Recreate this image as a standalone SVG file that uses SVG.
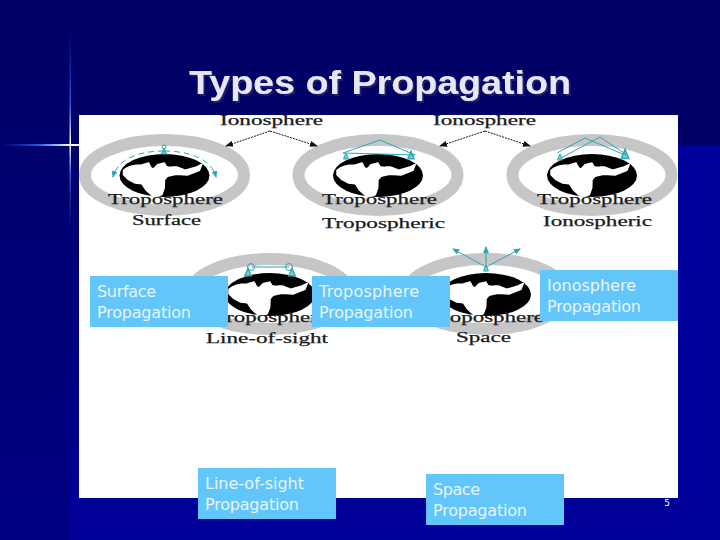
<svg xmlns="http://www.w3.org/2000/svg" width="720" height="540" viewBox="0 0 720 540">
<style>
.cap{font-family:"Liberation Serif","Times New Roman",serif;fill:#1a1a1a;stroke:#1a1a1a;stroke-width:.25;font-size:15px}
.lab{font-family:"DejaVu Sans",sans-serif;fill:#e6f4ff;font-size:16px}
.box{fill:#63c6fb}
.ring{fill:none;stroke:#c6c6c6;stroke-width:12}
.tl{fill:none;stroke:#2aa6b8;stroke-width:1}
.tt{fill:#2aa6b8;fill-opacity:.6;stroke:#2aa6b8;stroke-width:1}
.arr{fill:none;stroke:#111;stroke-width:1;stroke-dasharray:2 1;marker-end:url(#ah)}
</style>
<defs>
<filter id="sh" x="-5%" y="-20%" width="110%" height="140%"><feDropShadow dx="2" dy="2" stdDeviation="0.5" flood-color="#1c1c70"/></filter>
<linearGradient id="bg" x1="0" y1="0" x2="0" y2="1"><stop offset="0" stop-color="#00006a"/><stop offset="1" stop-color="#00009c"/></linearGradient>
<linearGradient id="lf" x1="0" y1="0" x2="0" y2="1"><stop offset="0" stop-color="#000066"/><stop offset="1" stop-color="#000084"/></linearGradient>
<linearGradient id="hz" x1="0" y1="0" x2="1" y2="0"><stop offset="0" stop-color="#1040c0" stop-opacity="0"/><stop offset=".5" stop-color="#2a62e0"/><stop offset=".88" stop-color="#ffffff"/><stop offset="1" stop-color="#ffffff"/></linearGradient>
<linearGradient id="vt" x1="0" y1="0" x2="0" y2="1"><stop offset="0" stop-color="#1040c0" stop-opacity="0"/><stop offset=".38" stop-color="#2a5cd8"/><stop offset=".57" stop-color="#ffffff"/><stop offset=".72" stop-color="#2a5cd8"/><stop offset="1" stop-color="#1040c0" stop-opacity="0"/></linearGradient>
<marker id="ah" markerWidth="8" markerHeight="6" refX="7" refY="3" orient="auto" markerUnits="userSpaceOnUse"><path d="M0,0L8,3L0,6Z" fill="#111"/></marker>
<marker id="tah" markerWidth="7" markerHeight="6" refX="6" refY="3" orient="auto" markerUnits="userSpaceOnUse"><path d="M0,0L7,3L0,6Z" fill="#2aa6b8"/></marker>
<g id="globe">
<ellipse class="ring" cx="0" cy="0" rx="79.5" ry="35"/>
<ellipse cx="0" cy="0.5" rx="45" ry="21.5" fill="#000"/>
<path fill="#fff" stroke="#fff" stroke-width="1.5" stroke-linejoin="round" d="M-41,-4.7C-36,-9-30,-10-22.7,-10L-16,-12C-14,-9-15,-7-11,-6L-7,-10.3L0,-12L2.3,-8L12.3,-8L20.7,-4.7L32,-8L37.3,-10.7L35,-4.7L23,0L11.7,-.7L3,1.3L0,4.7L-.3,13L-2.7,19.7C-6,21.5-10,21.5-12.7,20.3L-18.3,15.3L-22.7,8.7L-29.3,8L-36,4.7L-41,-.3Z"/>
<ellipse cx="6" cy="-12.5" rx="5" ry="4" fill="#000"/>
</g>
<g id="tower"><path class="tt" d="M-2.5,3L0,-3L2.5,3Z"/></g>
</defs>
<rect width="720" height="540" fill="#000066"/>
<rect x="0" y="0" width="70" height="540" fill="url(#lf)"/>
<rect x="70" y="145" width="650" height="395" fill="url(#bg)"/>
<rect x="678" y="145" width="42" height="395" fill="#00009a"/>
<rect x="0" y="144" width="80" height="2" fill="url(#hz)"/>
<rect x="69.5" y="30" width="1.5" height="200" fill="url(#vt)"/>
<g id="title"><text x="189" y="94" font-family="'Liberation Sans',Arial,sans-serif" font-weight="700" font-size="33" fill="#e6e6f5" textLength="382" lengthAdjust="spacingAndGlyphs" filter="url(#sh)">Types of Propagation</text></g>
<rect id="panel" x="79" y="115" width="599" height="383" fill="#fff"/>
<g id="node-surface">
<use href="#globe" transform="translate(164.5 175)"/>
<circle class="tl" cx="164" cy="147" r="2"/>
<use href="#tower" transform="translate(164 151)"/>
<path class="tl" stroke-dasharray="6 4" marker-end="url(#tah)" d="M164,151C140,151 118,158 113,177"/>
<path class="tl" stroke-dasharray="6 4" marker-end="url(#tah)" d="M164,151C188,151 211,158 216,177"/>
<text class="cap" x="108" y="204" textLength="115" lengthAdjust="spacingAndGlyphs">Troposphere</text>
<text class="cap" x="132" y="225" textLength="69" lengthAdjust="spacingAndGlyphs">Surface</text>
</g>
<g id="node-tropospheric">
<use href="#globe" transform="translate(378 175)"/>
<path class="tl" d="M343,153L380,140L415,155L343,153"/>
<use href="#tower" transform="translate(346 156)"/><use href="#tower" transform="translate(411 155) scale(1.3)"/>
<text class="cap" x="322" y="204" textLength="115" lengthAdjust="spacingAndGlyphs">Troposphere</text>
<text class="cap" x="322" y="228" textLength="123" lengthAdjust="spacingAndGlyphs">Tropospheric</text>
</g>
<g id="node-ionospheric">
<use href="#globe" transform="translate(592 175)"/>
<path class="tl" d="M557,153L585,138L625,155M561,158L600,137L627,155"/>
<use href="#tower" transform="translate(560 157)"/><use href="#tower" transform="translate(625 154) scale(1.5)"/>
<text class="cap" x="537" y="204" textLength="115" lengthAdjust="spacingAndGlyphs">Troposphere</text>
<text class="cap" x="543" y="226" textLength="109" lengthAdjust="spacingAndGlyphs">Ionospheric</text>
</g>
<g id="node-los">
<use href="#globe" transform="translate(270 294)"/>
<path class="tl" d="M252,267H289"/>
<circle class="tl" cx="251" cy="267" r="3.5"/><circle class="tl" cx="289" cy="267" r="3.5"/>
<use href="#tower" transform="translate(248 272) scale(1.3)"/><use href="#tower" transform="translate(292 272) scale(1.3)"/>
<text class="cap" x="213" y="322" textLength="115" lengthAdjust="spacingAndGlyphs">Troposphere</text>
<text class="cap" x="206" y="343" textLength="122" lengthAdjust="spacingAndGlyphs">Line-of-sight</text>
</g>
<g id="node-space">
<use href="#globe" transform="translate(486 294)"/>
<path class="tl" marker-end="url(#tah)" d="M486,267L453,249"/><path class="tl" marker-end="url(#tah)" d="M486,267V247"/><path class="tl" marker-end="url(#tah)" d="M486,267L520,249"/>
<use href="#tower" transform="translate(486 268)"/>
<text class="cap" x="429" y="322" textLength="115" lengthAdjust="spacingAndGlyphs">Troposphere</text>
<text class="cap" x="456" y="342" textLength="55" lengthAdjust="spacingAndGlyphs">Space</text>
</g>
<g id="ion-1"><text class="cap" x="220" y="125" textLength="103" lengthAdjust="spacingAndGlyphs">Ionosphere</text></g>
<g id="ion-2"><text class="cap" x="433" y="125" textLength="103" lengthAdjust="spacingAndGlyphs">Ionosphere</text></g>
<g id="connectors">
<path class="arr" d="M270,131L226,146"/><path class="arr" d="M270,131L317,146"/>
<path class="arr" d="M485,131L440,146"/><path class="arr" d="M485,131L530,146"/>
</g>
<g id="box-surface"><rect class="box" x="90" y="276" width="138" height="51"/><text class="lab" x="97" y="297" textLength="59">Surface</text><text class="lab" x="97" y="318" textLength="94">Propagation</text></g>
<g id="box-troposphere"><rect class="box" x="312" y="276" width="138" height="51"/><text class="lab" x="319" y="297" textLength="100">Troposphere</text><text class="lab" x="319" y="318" textLength="94">Propagation</text></g>
<g id="box-ionosphere"><rect class="box" x="540" y="270" width="138" height="51"/><text class="lab" x="547" y="291" textLength="89">Ionosphere</text><text class="lab" x="547" y="312" textLength="94">Propagation</text></g>
<g id="box-los"><rect class="box" x="198" y="468" width="138" height="51"/><text class="lab" x="205" y="489" textLength="99">Line-of-sight</text><text class="lab" x="205" y="510" textLength="94">Propagation</text></g>
<g id="box-space"><rect class="box" x="426" y="474" width="138" height="51"/><text class="lab" x="433" y="495" textLength="47">Space</text><text class="lab" x="433" y="516" textLength="94">Propagation</text></g>
<text id="page" x="667" y="506" text-anchor="middle" font-family="'DejaVu Sans',sans-serif" font-size="9" fill="#fff">5</text>
</svg>
